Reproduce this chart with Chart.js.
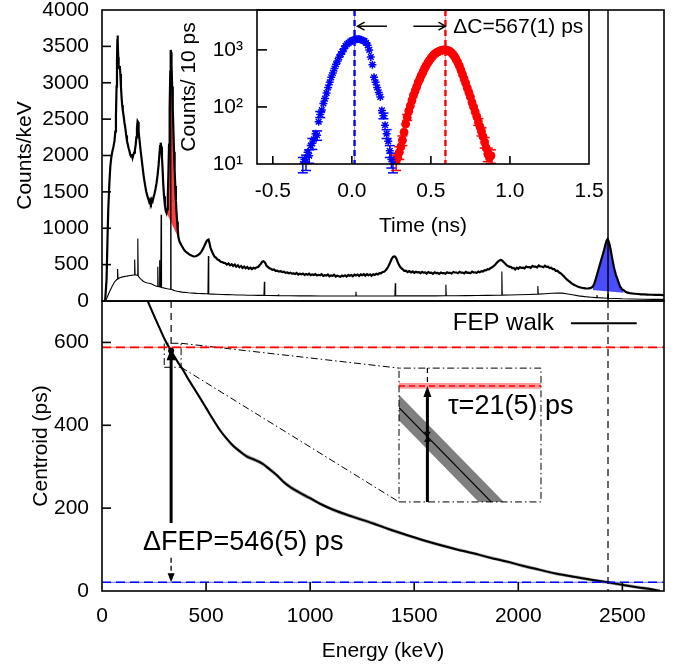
<!DOCTYPE html>
<html><head><meta charset="utf-8">
<script src="https://cdn.jsdelivr.net/npm/chart.js@4.4.1/dist/chart.umd.min.js"></script>
<style>
html,body{margin:0;padding:0;background:#fff;}
#stage{position:relative;width:683px;height:668px;overflow:hidden;background:#fff;}
#stage canvas{position:absolute;}
</style></head>
<body><div id="stage">
<canvas id="cBottom"></canvas>
<canvas id="cTop"></canvas>
<canvas id="cInsetTop"></canvas>
<canvas id="cInsetBottom"></canvas>
</div>
<script>
// ================= DATA =================
// Tick values
const energyTicks = [0, 500, 1000, 1500, 2000, 2500];
const countTicks = [0, 500, 1000, 1500, 2000, 2500, 3000, 3500, 4000];
const centroidTicks = [0, 200, 400, 600];
const timeTicks = [-0.5, 0.0, 0.5, 1.0, 1.5];
const logTicks = [10,20,30,40,50,60,70,80,90,100,200,300,400,500,600,700,800,900,1000,2000,3000,4000,5000];
const logLabels = {10: '10¹', 100: '10²', 1000: '10³'};

// Top panel: energy spectra [keV, counts/keV]
const spectrumTotal = [
[15,0],[19,0],[22,300],[26,800],[30,1250],[35,1600],[40,1850],[45,1980],[50,2060],[55,2120],[60,2200],[64,2330],[67,2550],[70,2950],[72,3300],[74,3600],[75,3650],[76,3560],[78,3350],[80,3230],[83,3200],[86,3230],[88,3120],[91,2950],[94,2800],[97,2690],[100,2620],[104,2540],[108,2450],[112,2380],[116,2280],[120,2200],[124,2150],[128,2100],[132,2060],[136,2010],[140,1985],[144,2020],[147,1970],[150,2000],[154,2040],[158,2070],[162,2150],[165,2250],[168,2380],[171,2470],[173,2460],[176,2330],[180,2220],[185,2080],[190,1960],[195,1840],[200,1720],[206,1610],[212,1510],[218,1440],[223,1400],[227,1360],[231,1390],[235,1355],[239,1395],[243,1370],[247,1420],[252,1470],[257,1540],[262,1620],[267,1730],[272,1870],[276,2020],[279,2130],[282,2175],[285,2120],[288,1980],[291,1820],[294,1620],[298,1440],[302,1320],[306,1240],[310,1210],[313,1260],[316,1420],[319,1750],[322,2150],[325,2650],[328,3150],[330,3450],[332,3420],[334,3250],[337,2950],[340,2650],[343,2350],[346,2050],[349,1800],[352,1580],[355,1380],[358,1220],[361,1090],[364,980],[367,880],[372,820],[378,785],[385,750],[393,710],[401,680],[410,660],[420,640],[430,625],[440,612],[450,615],[460,628],[470,650],[480,690],[490,745],[497,790],[503,825],[508,840],[512,845],[516,800],[521,735],[527,690],[534,645],
[540,612],[548,594],[555,570],[563,560],[570,540],[578,534],[585,524],[593,520],[600,500],[608,516],[615,490],[623,506],[630,482],[638,500],[645,472],[653,490],[660,464],[668,482],[675,456],[683,474],[690,449],[698,467],[705,442],[713,458],[720,440],[728,456],[735,448],[742,462],[750,468],[757,492],[763,510],[769,538],[775,546],[780,538],[785,518],[791,482],[797,468],[803,452],[810,444],[818,428],[826,434],[834,414],[842,418],[850,404],[858,410],[866,398],[874,404],[882,386],[890,392],[898,382],[905,388],[913,376],[920,380],[928,370],[935,386],[943,364],[950,376],[958,366],[965,378],[973,358],[980,370],[988,362],[995,376],[1003,354],[1010,366],[1018,358],[1025,370],[1033,350],[1040,360],[1048,354],[1055,368],[1063,344],[1070,356],[1078,350],[1085,364],[1093,340],[1100,352],[1108,346],[1115,360],[1123,336],[1130,348],[1138,340],[1145,332],[1153,350],[1160,340],[1168,352],[1175,336],[1183,356],[1190,346],[1198,358],[1205,340],[1213,362],[1220,350],[1228,364],[1235,344],[1243,366],[1250,354],[1258,368],[1265,348],[1273,368],[1280,354],[1288,366],[1295,348],[1303,368],[1310,358],[1318,374],[1325,366],[1333,384],[1340,380],[1348,398],[1355,402],[1362,420],[1368,440],[1374,468],[1380,500],[1386,540],[1392,580],[1398,605],[1404,612],[1409,608],[1414,585],[1420,540],[1426,500],[1432,470],[1438,452],
[1445,436],[1452,414],[1460,418],[1468,396],[1476,412],[1485,392],[1493,406],[1500,386],[1508,402],[1515,394],[1523,396],[1530,382],[1538,400],[1545,390],[1553,392],[1560,378],[1568,398],[1575,386],[1583,390],[1590,374],[1598,394],[1605,384],[1613,386],[1620,372],[1628,392],[1635,382],[1643,384],[1650,374],[1658,395],[1665,386],[1673,388],[1680,378],[1688,398],[1695,392],[1703,392],[1710,382],[1718,402],[1725,389],[1733,390],[1740,379],[1748,400],[1755,388],[1763,391],[1770,382],[1778,403],[1785,392],[1793,395],[1800,386],[1808,406],[1815,396],[1823,410],[1830,404],[1838,424],[1845,420],[1853,438],[1860,436],[1866,450],[1872,460],[1878,472],[1884,485],[1890,502],[1895,520],[1900,535],[1905,548],[1910,558],[1915,565],[1920,560],[1925,548],[1930,535],[1935,520],[1940,505],[1945,490],[1951,480],[1958,470],
[1964,470],[1970,452],[1978,454],[1985,434],[1993,458],[2000,442],[2008,464],[2015,456],[2023,458],[2030,449],[2038,474],[2045,464],[2053,466],[2060,456],[2068,482],[2075,472],[2083,472],[2090,462],[2098,488],[2105,474],[2113,474],[2120,464],[2128,484],[2135,468],[2143,472],[2150,454],[2158,458],[2165,439],[2173,438],[2180,414],[2188,416],[2195,394],[2203,382],[2210,365],[2218,342],[2225,320],[2233,298],[2240,280],[2248,262],[2255,245],[2263,230],[2270,220],[2278,208],[2285,198],[2293,190],[2300,185],[2308,180],[2315,178],[2323,174],[2330,172],[2338,173],[2345,176],[2352,185],[2358,200],[2364,230],[2370,280],[2376,340],[2382,400],[2388,460],[2394,520],[2400,580],[2406,640],[2412,700],[2418,770],[2424,830],[2429,850],[2434,820],[2439,770],[2444,700],[2449,620],[2454,545],[2459,470],[2464,410],[2469,360],[2474,320],[2480,270],[2486,220],[2492,185],[2499,160],[2506,148],[2515,128],[2525,115],[2535,108],[2545,104],[2560,100],[2575,96],[2590,92],[2605,90],[2620,88],[2640,86],[2660,85],[2680,83],[2700,82]
];
const spectrumGated = [
[15,0],[20,20],[25,50],[30,85],[35,120],[40,150],[45,180],[50,210],[55,235],[60,260],[65,278],[70,292],[73,300],[75,440],[77,305],[80,310],[85,318],[90,324],[95,328],[100,332],[105,335],[110,338],[115,340],[120,342],[125,345],[130,347],[135,350],[140,352],[145,355],[150,357],[155,358],[157,570],[159,358],[163,360],[167,358],[170,352],[172,860],[174,345],[178,328],[183,312],[188,298],[193,285],[198,272],[203,264],[208,258],[214,252],[220,248],[226,245],[232,240],[238,234],[244,228],[250,218],[256,210],[262,204],[266,200],[268,470],[270,198],[274,196],[276,560],[278,194],[282,190],[284,1186],[286,188],[290,184],[296,180],[302,176],[308,172],[314,168],[320,165],[326,162],[328,162],[330,3400],[332,160],[338,154],[345,146],[352,140],[360,134],[368,130],[376,126],[385,122],[395,119],[405,116],[415,113],[425,111],[440,108],[455,105],[470,103],[485,101],[500,99],[509,98],[511,620],[513,97],[530,95],[550,92],[575,89],[600,87],[625,85],[650,83],[675,82],[700,80],[725,79],[750,78],[778,77],[780,266],[782,77],[800,76],[846,74],[848,92],[850,74],[900,72],[950,71],[1000,70],[1050,69],[1100,68],[1150,68],[1218,68],[1220,128],[1222,68],[1300,68],[1350,69],[1407,70],[1409,244],[1411,70],[1500,70],[1550,70],[1600,71],[1650,72],[1652,225],[1654,72],[1700,73],[1750,74],[1800,76],[1850,78],[1900,80],[1919,81],[1921,404],[1923,81],[1960,83],[2000,85],[2050,90],[2092,95],[2094,207],[2096,95],[2130,100],[2160,106],[2190,110],[2210,108],[2230,100],[2260,85],[2290,70],[2320,60],[2350,52],[2376,46],[2378,83],[2380,46],[2410,41],[2429,38],[2431,100],[2433,38],[2470,34],[2500,30],[2550,27],[2600,25],[2650,23],[2700,22]
];
const redPeakBase  = [[310,1215],[368,860]];     // background under the low-energy peak
const bluePeakBase = [[2355,152],[2506,115]];    // background under the FEP
const fepEnergy = 2431;                          // keV
const lowEnergy = 332;                           // keV

// Top inset: time spectra [ns, counts / 10 ps]
const timeBlue = [
[-0.31,10],[-0.30,12],[-0.29,11],[-0.28,16],[-0.27,14],[-0.26,21],[-0.25,23],[-0.24,27],[-0.23,34],[-0.22,32],[-0.21,55],[-0.20,74],[-0.19,88],[-0.18,115],[-0.17,140],[-0.16,175],[-0.15,220],[-0.14,270],[-0.13,330],[-0.12,395],[-0.11,470],[-0.10,560],[-0.09,640],[-0.08,740],[-0.07,840],[-0.06,930],[-0.05,1050],[-0.04,1180],[-0.03,1260],[-0.02,1330],[-0.01,1400],[0.00,1450],[0.01,1490],[0.02,1510],[0.03,1540],[0.04,1550],[0.05,1530],[0.06,1500],[0.07,1460],[0.08,1420],[0.09,1330],[0.10,1200],[0.11,1000],[0.12,750],[0.13,550],[0.14,330],[0.15,270],[0.16,220],[0.17,180],[0.18,150],[0.19,87],[0.20,70],[0.21,48],[0.22,34],[0.23,25],[0.24,17],[0.25,12],[0.26,10]
];
const timeRed = [
[0.28,11],[0.29,13],[0.30,16],[0.31,20],[0.32,26],[0.33,36],[0.34,50],[0.35,66],[0.36,85],[0.37,105],[0.38,130],[0.39,160],[0.40,190],[0.41,225],[0.42,270],[0.43,310],[0.44,360],[0.45,410],[0.46,470],[0.47,530],[0.48,590],[0.49,650],[0.50,710],[0.51,770],[0.52,830],[0.53,870],[0.54,910],[0.55,940],[0.56,965],[0.57,985],[0.58,1000],[0.59,1000],[0.60,990],[0.61,970],[0.62,940],[0.63,890],[0.64,830],[0.65,760],[0.66,680],[0.67,600],[0.68,520],[0.69,440],[0.70,370],[0.71,310],[0.72,260],[0.73,215],[0.74,180],[0.75,150],[0.76,120],[0.77,100],[0.78,82],[0.79,68],[0.80,55],[0.81,45],[0.82,37],[0.83,30],[0.84,24],[0.85,19],[0.86,15],[0.87,13],[0.88,14]
];
// error bars [ns, counts, +/-]
const blueErrBars = [[-0.31,10,3],[-0.29,11,3.3],[-0.27,14,3.7],[-0.25,23,5],[-0.22,32,6],[-0.20,74,9],[0.20,70,8],[0.22,34,6],[0.24,17,4],[0.25,12,3.5],[0.26,10,3]];
const redErrBars  = [[0.28,11,3.3],[0.30,16,4],[0.32,26,5],[0.35,66,8],[0.80,55,7.4],[0.82,37,6],[0.84,24,5],[0.86,15,4],[0.88,14,3.7]];
const centroidBlueNs = 0.017, centroidRedNs = 0.592;   // ns
const dcArrowTails = [0.222, 0.389];                     // ns
const dcArrowLevel = 2600;                               // counts
const dcLabelPos = [0.641, 2450];

// Bottom panel: FEP walk [keV, ps] and its uncertainty (ps)
const walk = [
[219.5,700],[240,676],[260,653],[280,631],[295,614],[312,597],[332,580],[350,564],[370,548],[390,533],[407,518],[440,491],[471,466],[500,442],[530,417],[567,388],[600,367],[631,350],[665,336],[695,325],[727,318],[755,312],[775,306],[800,296],[839,280],[871,264],[910,249],[951,237],[1000,224],[1050,210],[1111,196],[1200,180],[1303,163],[1380,149],[1464,135],[1540,123],[1624,111],[1700,101],[1784,91],[1860,81],[1944,71],[2020,61],[2104,51],[2180,42],[2264,34.5],[2350,27],[2430,21],[2510,14],[2585,8],[2640,4],[2681,0]
];
const walkErr = [5,5,5,5,5,5,5,5,5,5,5,5,5,5,5,5,5,5,5,5,5,5,5,5,5,5,5,5,5,4.5,4.5,4.5,4.5,4,4,4,4,4,4,4,4,4,4,4,4,4,4,4,4,4,4];
const centroidRed = 588, centroidRedErr = 1.2;   // ps
const centroidBlue = 21;                          // ps
const walkAtLow = 580, arrowTipLow = 586;         // ps
const zoomBox  = {e0:299, e1:380, c0:540, c1:598};
const insetBox = {e0:1427, e1:2109, c0:215, c1:538};
const labelDFEP = [197, 116], labelTau = [1662, 445];
const legendText = [1685, 646], legendLine = [2253, 2569];

// Bottom inset (zoom)
const insetRangeE = [322, 372], insetRangeC = [540, 595.4];
const insetWalk = [[322,579],[372,519]];
const insetWalkErr = 5.3;
const insetWalkAtLow = 567;

// ================= HELPERS =================
const FONT = "'Liberation Sans', Arial, Helvetica, sans-serif";
Chart.defaults.font.family = FONT;
Chart.defaults.font.size = 21;
Chart.defaults.color = '#000';
const P = a => a.map(([x, y]) => ({x, y}));
const base = {responsive:false, animation:false, devicePixelRatio:1, events:[]};
const noLegend = {legend:{display:false}, tooltip:{enabled:false}};
const clear = 'rgba(0,0,0,0)';
const fixTicks = vals => (s => { s.ticks = vals.map(v => ({value: v})); });

function sizeCanvas(id, left, top, w, h) {
  const c = document.getElementById(id);
  c.width = w; c.height = h;
  c.style.left = left + 'px'; c.style.top = top + 'px';
  c.style.width = w + 'px'; c.style.height = h + 'px';
  return c;
}
function seg(ctx, x1, y1, x2, y2, color, width, dash) {
  ctx.save(); ctx.strokeStyle = color; ctx.lineWidth = width; ctx.setLineDash(dash || []);
  ctx.beginPath(); ctx.moveTo(x1, y1); ctx.lineTo(x2, y2); ctx.stroke(); ctx.restore();
}
function headV(ctx, x, y, dir, len, half, color) { // filled triangle, tip at (x,y)
  ctx.save(); ctx.fillStyle = color || '#000'; ctx.beginPath();
  if (dir === 'up') { ctx.moveTo(x, y); ctx.lineTo(x - half, y + len); ctx.lineTo(x + half, y + len); }
  else { ctx.moveTo(x, y); ctx.lineTo(x - half, y - len); ctx.lineTo(x + half, y - len); }
  ctx.closePath(); ctx.fill(); ctx.restore();
}
function headOpenH(ctx, x, y, dir, len, half) {
  const s = dir === 'left' ? 1 : -1;
  ctx.save(); ctx.strokeStyle = '#000'; ctx.lineWidth = 1.5; ctx.beginPath();
  ctx.moveTo(x + s * len, y - half); ctx.lineTo(x, y); ctx.lineTo(x + s * len, y + half); ctx.stroke(); ctx.restore();
}
function text(ctx, str, x, y, size) {
  ctx.save(); ctx.fillStyle = '#000'; ctx.font = size + 'px ' + FONT;
  ctx.textAlign = 'left'; ctx.textBaseline = 'middle'; ctx.fillText(str, x, y); ctx.restore();
}

const framePlugin = {
  id: 'frame',
  afterDatasetsDraw(chart, args, o) {
    const {ctx, chartArea: a} = chart;
    ctx.save(); ctx.strokeStyle = '#000'; ctx.lineWidth = 1.6;
    (o.ticks || []).forEach(t => {
      const s = chart.scales[t.axis];
      s.ticks.forEach(tk => {
        const v = tk.value;
        let len = t.len;
        if (t.log) {
          const e = Math.floor(Math.log10(v) + 1e-9), sig = v / Math.pow(10, e);
          if (Math.round(sig) !== 1) len = t.minor;
        }
        const p = s.getPixelForValue(v);
        ctx.beginPath();
        if (t.axis === 'x') {
          if (p < a.left + 1 || p > a.right - 1) return;
          ctx.moveTo(p, a.bottom); ctx.lineTo(p, a.bottom - len);
        } else {
          if (p < a.top + 1 || p > a.bottom - 1) return;
          ctx.moveTo(a.left, p); ctx.lineTo(a.left + len, p);
        }
        ctx.stroke();
      });
    });
    ctx.strokeRect(a.left, a.top, a.right - a.left, a.bottom - a.top);
    ctx.restore();
  }
};

// ================= TOP PANEL =================
const inRange = (arr, r) => arr.filter(p => p[0] >= r[0][0] && p[0] <= r[1][0]);
const topAnnot = {
  id: 'topAnnot',
  afterDatasetsDraw(chart) {
    const {ctx, chartArea: a, scales: {x}} = chart;
    const px = x.getPixelForValue(fepEnergy);
    seg(ctx, px, a.top, px, a.bottom, '#000', 1.5);
  }
};
// plot area: x 102..664, y 10..301 (page)
sizeCanvas('cTop', 0, -16, 683, 343);
const topChart = new Chart(document.getElementById('cTop'), {
  type: 'line',
  data: {datasets: [
    {data: P(spectrumTotal), borderColor: '#000', borderWidth: 2.2, pointRadius: 0, fill: false},
    {data: P(spectrumGated), borderColor: '#000', borderWidth: 1.1, pointRadius: 0, fill: false},
    {data: P(inRange(spectrumTotal, redPeakBase)), borderColor: clear, borderWidth: 0, pointRadius: 0, fill: 3, backgroundColor: 'rgba(255,0,0,0.75)'},
    {data: P(redPeakBase), borderColor: clear, borderWidth: 0, pointRadius: 0, fill: false},
    {data: P(inRange(spectrumTotal, bluePeakBase)), borderColor: clear, borderWidth: 0, pointRadius: 0, fill: 5, backgroundColor: 'rgba(0,0,255,0.7)'},
    {data: P(bluePeakBase), borderColor: clear, borderWidth: 0, pointRadius: 0, fill: false}
  ]},
  options: Object.assign({}, base, {
    layout: {padding: {top: 26, right: 19, bottom: 26, left: 0}},
    plugins: Object.assign({frame: {ticks: [{axis: 'y', len: 9}]}}, noLegend),
    scales: {
      x: {type: 'linear', display: false, min: 0, max: 2700},
      y: {type: 'linear', min: 0, max: 4000,
          afterBuildTicks: fixTicks(countTicks),
          afterFit: s => { s.width = 102; },
          grid: {display: false, drawTicks: false}, border: {display: false},
          ticks: {padding: 13, callback: v => String(v)},
          title: {display: true, text: 'Counts/keV', padding: {top: 13, bottom: 0}}}
    }
  }),
  plugins: [topAnnot, framePlugin]
});

// ================= BOTTOM PANEL =================
const BOTTOM_TOP = 275;
const bottomAnnot = {
  id: 'bottomAnnot',
  afterDatasetsDraw(chart) {
    const {ctx, chartArea: a} = chart;
    const X = v => chart.scales.x.getPixelForValue(v), Y = v => chart.scales.y.getPixelForValue(v);
    ctx.save();
    ctx.beginPath(); ctx.rect(a.left, a.top, a.right - a.left, a.bottom - a.top); ctx.clip();
    seg(ctx, a.left, Y(centroidRed), a.right, Y(centroidRed), 'rgba(255,0,0,0.45)', 1.2);
    seg(ctx, a.left, Y(centroidRed), a.right, Y(centroidRed), '#ff0000', 1.6, [9, 5]);
    seg(ctx, a.left, Y(centroidBlue), a.right, Y(centroidBlue), 'rgba(0,0,255,0.45)', 1.2);
    seg(ctx, a.left, Y(centroidBlue), a.right, Y(centroidBlue), '#0000ff', 1.6, [9, 5]);
    seg(ctx, X(lowEnergy), a.top, X(lowEnergy), Y(walkAtLow), '#000', 1.2, [7, 5]);
    seg(ctx, X(fepEnergy), a.top, X(fepEnergy), a.bottom, '#000', 1.2, [7, 5]);
    seg(ctx, X(lowEnergy), Y(164), X(lowEnergy), Y(arrowTipLow) + 10, '#000', 3);
    headV(ctx, X(lowEnergy), Y(arrowTipLow), 'up', 12, 4.5);
    seg(ctx, X(lowEnergy), Y(80), X(lowEnergy), Y(centroidBlue) - 8, '#000', 1.3, [5, 3]);
    headV(ctx, X(lowEnergy), Y(centroidBlue), 'down', 9, 3.5);
    ctx.fillStyle = '#000'; ctx.beginPath(); ctx.arc(X(lowEnergy), Y(walkAtLow), 3, 0, Math.PI * 2); ctx.fill();
    ctx.restore();
    text(ctx, 'ΔFEP=546(5) ps', X(labelDFEP[0]), Y(labelDFEP[1]), 27);
    text(ctx, 'τ=21(5) ps', X(labelTau[0]), Y(labelTau[1]), 27);
    text(ctx, 'FEP walk', X(legendText[0]), Y(legendText[1]), 24);
    seg(ctx, X(legendLine[0]), Y(legendText[1]), X(legendLine[1]), Y(legendText[1]), '#000', 2);
  }
};
const dashDot = [7, 3, 1.5, 3];
const boxPts = b => [[b.e0, b.c0], [b.e1, b.c0], [b.e1, b.c1], [b.e0, b.c1], [b.e0, b.c0]];
// plot area: x 102..664, y 301..591 (page)
sizeCanvas('cBottom', 0, BOTTOM_TOP, 704, 668 - BOTTOM_TOP);
const bottomChart = new Chart(document.getElementById('cBottom'), {
  type: 'line',
  data: {datasets: [
    {data: P(walk), borderColor: '#000', borderWidth: 2, pointRadius: 0, cubicInterpolationMode: 'monotone', fill: false},
    {data: P(walk.map((p, i) => [p[0], p[1] + walkErr[i]])), borderColor: clear, borderWidth: 0, pointRadius: 0, cubicInterpolationMode: 'monotone', fill: 2, backgroundColor: 'rgba(0,0,0,0.35)'},
    {data: P(walk.map((p, i) => [p[0], p[1] - walkErr[i]])), borderColor: clear, borderWidth: 0, pointRadius: 0, cubicInterpolationMode: 'monotone', fill: false},
    {data: P(boxPts(zoomBox)), borderColor: '#000', borderWidth: 1, borderDash: dashDot, pointRadius: 0, fill: false},
    {data: P(boxPts(insetBox)), borderColor: '#000', borderWidth: 1, borderDash: dashDot, pointRadius: 0, fill: false},
    {data: P([[zoomBox.e1, zoomBox.c1], [insetBox.e0, insetBox.c1]]), borderColor: '#000', borderWidth: 1, borderDash: dashDot, pointRadius: 0, fill: false},
    {data: P([[zoomBox.e1, zoomBox.c0], [insetBox.e0, insetBox.c0]]), borderColor: '#000', borderWidth: 1, borderDash: dashDot, pointRadius: 0, fill: false}
  ]},
  options: Object.assign({}, base, {
    layout: {padding: {top: 26, right: 40, bottom: 0, left: 0}},
    plugins: Object.assign({frame: {ticks: [{axis: 'x', len: 9}, {axis: 'y', len: 9}]}}, noLegend),
    scales: {
      x: {type: 'linear', min: 0, max: 2700,
          afterBuildTicks: fixTicks(energyTicks),
          afterFit: s => { s.height = 77; },
          grid: {display: false, drawTicks: false}, border: {display: false},
          ticks: {padding: 13, callback: v => String(v)},
          title: {display: true, text: 'Energy (keV)', padding: {top: 0, bottom: 4}}},
      y: {type: 'linear', min: 0, max: 700,
          afterBuildTicks: fixTicks(centroidTicks),
          afterFit: s => { s.width = 102; },
          grid: {display: false, drawTicks: false}, border: {display: false},
          ticks: {padding: 13, callback: v => String(v)},
          title: {display: true, text: 'Centroid (ps)', padding: {top: 29, bottom: 0}}}
    }
  }),
  plugins: [bottomAnnot, framePlugin]
});

// ================= TOP INSET =================
const insetTopAnnot = {
  id: 'insetTopAnnot',
  beforeDatasetsDraw(chart) {
    const {ctx, scales: {x, y}} = chart;
    [[blueErrBars, '#0000ff'], [redErrBars, '#ff0000']].forEach(([arr, col]) => {
      arr.forEach(([t, n, e]) => {
        const px = x.getPixelForValue(t), y1 = y.getPixelForValue(n - e), y2 = y.getPixelForValue(n + e);
        seg(ctx, px, y1, px, y2, col, 1.5);
        seg(ctx, px - 5, y1, px + 5, y1, col, 1.5);
        seg(ctx, px - 5, y2, px + 5, y2, col, 1.5);
      });
    });
  },
  afterDatasetsDraw(chart) {
    const {ctx, chartArea: a, scales: {x, y}} = chart;
    const xb = x.getPixelForValue(centroidBlueNs), xr = x.getPixelForValue(centroidRedNs);
    seg(ctx, xb, a.top, xb, a.bottom, 'rgba(0,0,255,0.45)', 1);
    seg(ctx, xb, a.top, xb, a.bottom, '#0000ff', 2.4, [6, 4]);
    seg(ctx, xr, a.top, xr, a.bottom, 'rgba(255,0,0,0.45)', 1);
    seg(ctx, xr, a.top, xr, a.bottom, '#ff0000', 2.4, [6, 4]);
    const ya = y.getPixelForValue(dcArrowLevel);
    const tipL = xb + 3, tipR = xr;
    seg(ctx, x.getPixelForValue(dcArrowTails[0]), ya, tipL, ya, '#000', 1.5);
    headOpenH(ctx, tipL, ya, 'left', 7, 4);
    seg(ctx, x.getPixelForValue(dcArrowTails[1]), ya, tipR, ya, '#000', 1.5);
    headOpenH(ctx, tipR, ya, 'right', 7, 4);
    text(ctx, 'ΔC=567(1) ps', x.getPixelForValue(dcLabelPos[0]), y.getPixelForValue(dcLabelPos[1]), 21);
  }
};
// plot area: x 257..589, y 10..164 (page)
sizeCanvas('cInsetTop', 167, -18, 462, 262);
const insetTop = new Chart(document.getElementById('cInsetTop'), {
  type: 'line',
  data: {datasets: [
    {data: P(timeBlue), showLine: false, pointStyle: 'star', pointRadius: 4, borderColor: '#0000ff', backgroundColor: '#0000ff', pointBorderWidth: 1.5},
    {data: P(timeRed), showLine: false, pointStyle: 'circle', pointRadius: 4, borderColor: '#ff0000', backgroundColor: '#ff0000', pointBorderWidth: 1}
  ]},
  options: Object.assign({}, base, {
    layout: {padding: {top: 28, right: 40, bottom: 0, left: 0}},
    plugins: Object.assign({frame: {ticks: [{axis: 'x', len: 8}, {axis: 'y', len: 10, minor: 5, log: true}]}}, noLegend),
    scales: {
      x: {type: 'linear', min: -0.6, max: 1.5,
          afterBuildTicks: fixTicks(timeTicks),
          afterFit: s => { s.height = 80; },
          grid: {display: false, drawTicks: false}, border: {display: false},
          ticks: {padding: 15, callback: v => v.toFixed(1)},
          title: {display: true, text: 'Time (ns)', padding: {top: 0, bottom: 5}}},
      y: {type: 'logarithmic', min: 10, max: 5000,
          afterBuildTicks: fixTicks(logTicks),
          afterFit: s => { s.width = 90; },
          grid: {display: false, drawTicks: false}, border: {display: false},
          ticks: {autoSkip: false, padding: 14, callback: v => (logLabels[v] !== undefined ? logLabels[v] : null)},
          title: {display: true, text: 'Counts/ 10 ps', padding: {top: 10, bottom: 0}}}
    }
  }),
  plugins: [insetTopAnnot, framePlugin]
});

// ================= BOTTOM INSET =================
const bx = bottomChart.scales.x, by = bottomChart.scales.y;
const iL = Math.round(bx.getPixelForValue(insetBox.e0)), iR = Math.round(bx.getPixelForValue(insetBox.e1));
const iT = Math.round(by.getPixelForValue(insetBox.c1)), iB = Math.round(by.getPixelForValue(insetBox.c0));
sizeCanvas('cInsetBottom', iL, BOTTOM_TOP + iT, iR - iL, iB - iT);
const insetBottomAnnot = {
  id: 'insetBottomAnnot',
  afterDatasetsDraw(chart) {
    const {ctx, chartArea: a, scales: {x, y}} = chart;
    const px = x.getPixelForValue(lowEnergy);
    seg(ctx, px, a.top, px, y.getPixelForValue(centroidRed), '#000', 1.2, [5, 4]);
    seg(ctx, px, a.bottom, px, y.getPixelForValue(centroidRed) + 10, '#000', 3);
    headV(ctx, px, y.getPixelForValue(centroidRed), 'up', 11, 4);
    const pw = y.getPixelForValue(insetWalkAtLow);
    headV(ctx, px, pw, 'down', 5, 3.5);
    headV(ctx, px, pw, 'up', 5, 3.5);
  }
};
const insetBottom = new Chart(document.getElementById('cInsetBottom'), {
  type: 'line',
  data: {datasets: [
    {data: P([[insetRangeE[0], centroidRed + centroidRedErr], [insetRangeE[1], centroidRed + centroidRedErr]]), borderColor: clear, borderWidth: 0, pointRadius: 0, fill: 1, backgroundColor: 'rgba(255,0,0,0.4)'},
    {data: P([[insetRangeE[0], centroidRed - centroidRedErr], [insetRangeE[1], centroidRed - centroidRedErr]]), borderColor: clear, borderWidth: 0, pointRadius: 0, fill: false},
    {data: P([[insetRangeE[0], centroidRed], [insetRangeE[1], centroidRed]]), borderColor: '#ff0000', borderWidth: 1.5, borderDash: [6, 4], pointRadius: 0, fill: false},
    {data: P(insetWalk), borderColor: '#000', borderWidth: 1.2, pointRadius: 0, fill: false},
    {data: P(insetWalk.map(p => [p[0], p[1] + insetWalkErr])), borderColor: clear, borderWidth: 0, pointRadius: 0, fill: 5, backgroundColor: 'rgba(0,0,0,0.5)'},
    {data: P(insetWalk.map(p => [p[0], p[1] - insetWalkErr])), borderColor: clear, borderWidth: 0, pointRadius: 0, fill: false}
  ]},
  options: Object.assign({}, base, {
    layout: {padding: 0},
    plugins: noLegend,
    scales: {
      x: {type: 'linear', display: false, min: insetRangeE[0], max: insetRangeE[1]},
      y: {type: 'linear', display: false, min: insetRangeC[0], max: insetRangeC[1]}
    }
  }),
  plugins: [insetBottomAnnot]
});
</script></body></html>
